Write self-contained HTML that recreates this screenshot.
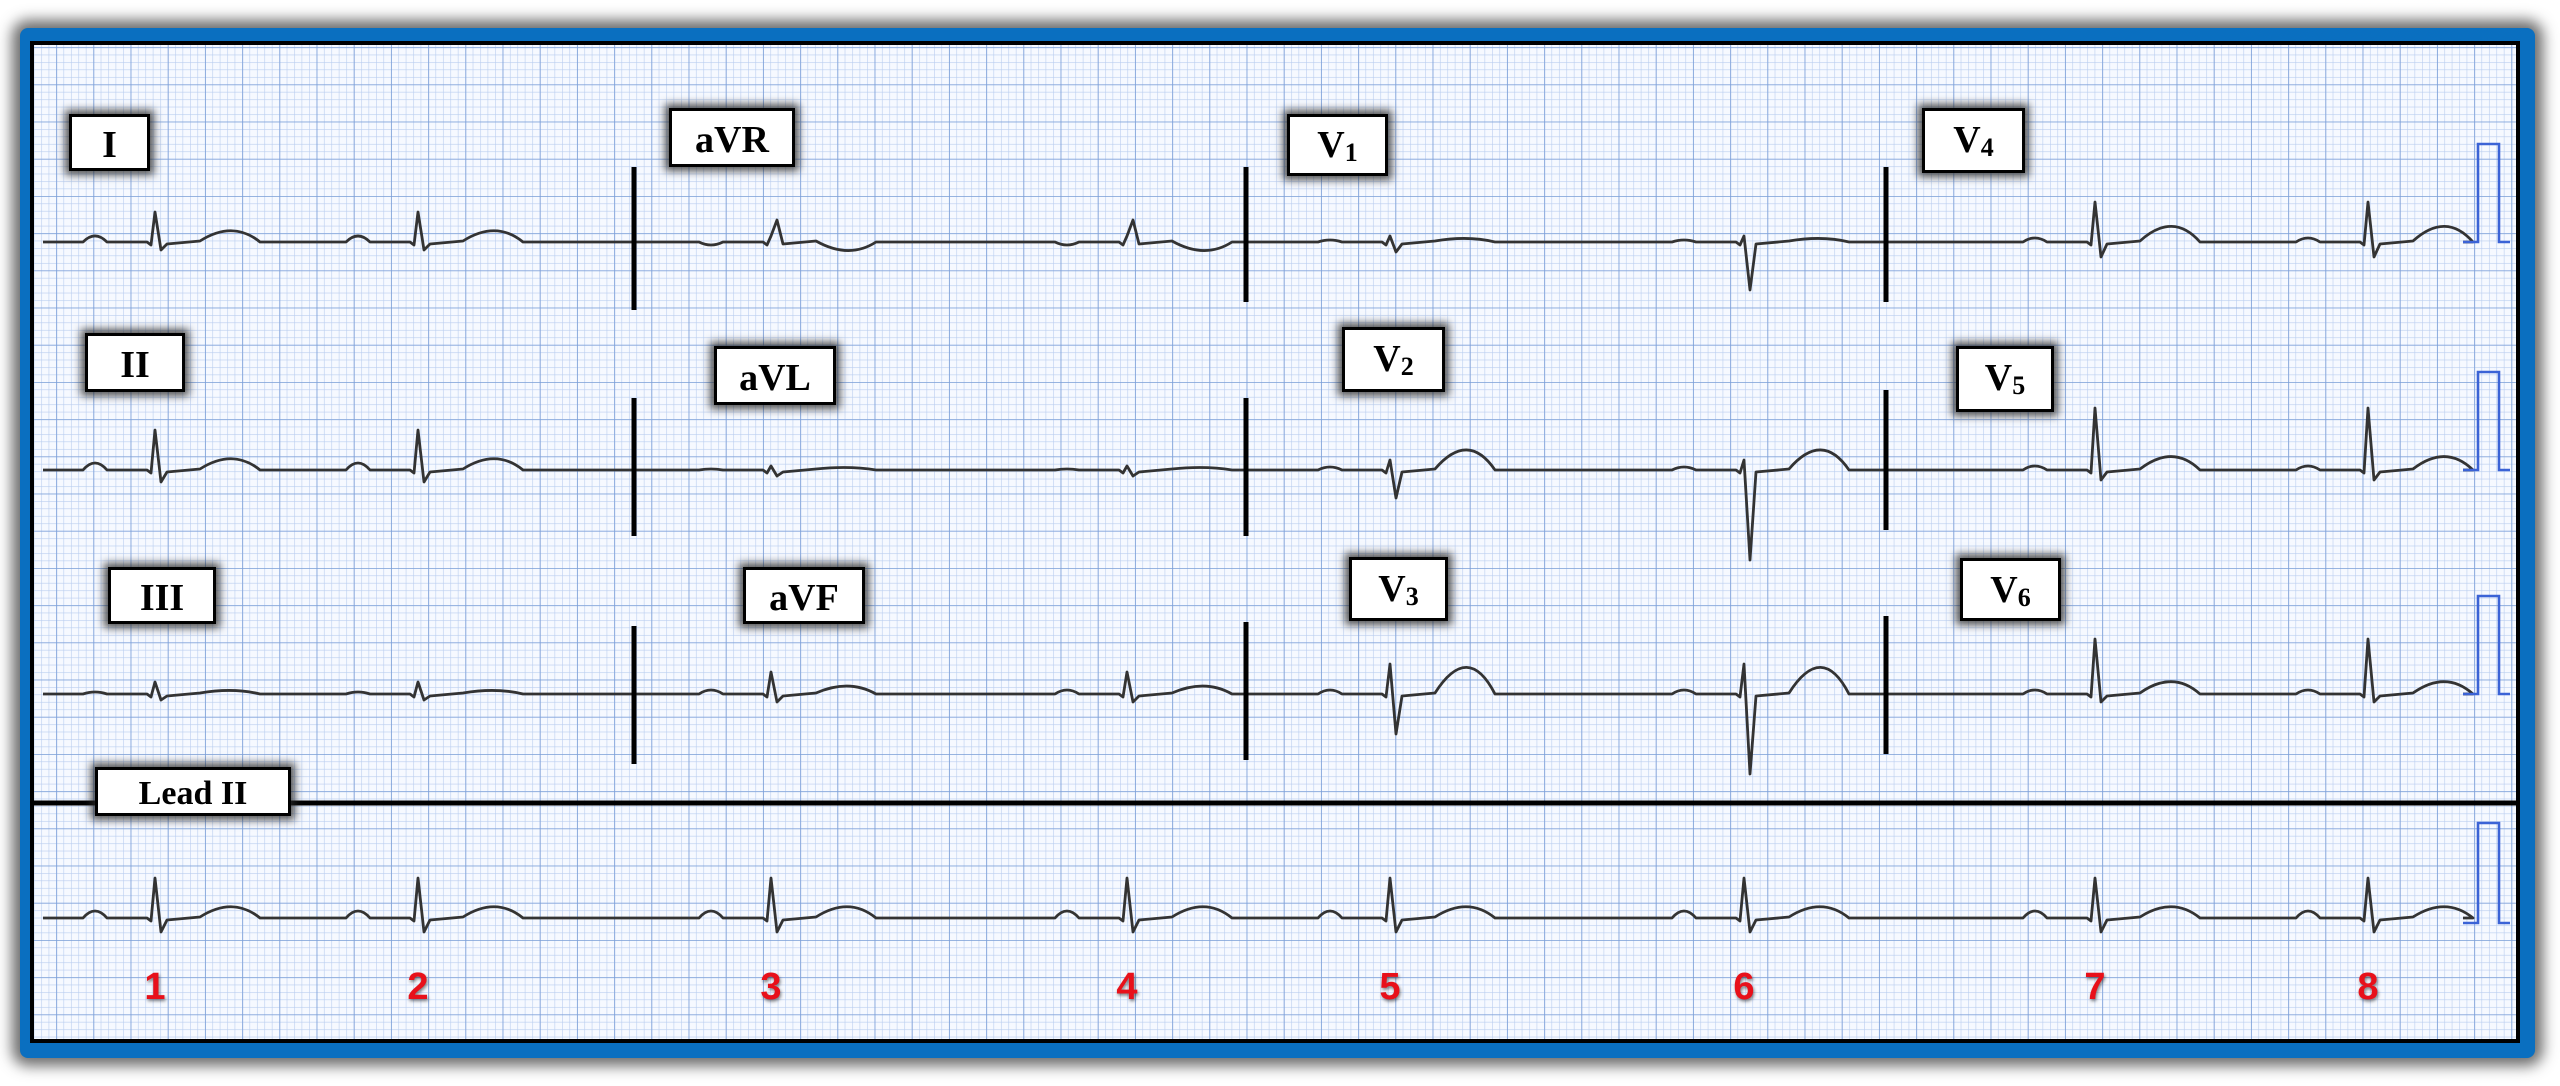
<!DOCTYPE html>
<html><head><meta charset="utf-8"><style>
html,body{margin:0;padding:0;background:#fff;}
#wrap{position:relative;width:2560px;height:1086px;overflow:hidden;background:#fff;}
#frame{position:absolute;left:20px;top:28px;width:2515px;height:1030px;background:#0a6fc0;border-radius:8px;box-shadow:0 0 14px 8px rgba(60,60,60,.75);}
#paper{position:absolute;left:30px;top:41px;width:2490px;height:1002px;border:4px solid #000;box-sizing:border-box;background:#f6f9ff;}
svg{position:absolute;left:0;top:0;}
.lb{position:absolute;background:#fff;border:3px solid #000;box-sizing:border-box;box-shadow:0 0 8px 4px rgba(40,40,40,.8);font-family:"Liberation Serif",serif;font-weight:bold;font-size:38px;color:#000;text-align:center;line-height:1;}
.lb span{display:inline-block;}
.lb sub{font-size:26px;position:relative;top:4px;vertical-align:baseline;}
.n{position:absolute;font-family:"Liberation Sans",sans-serif;font-weight:bold;font-size:38px;color:#e8101a;text-shadow:1px 2px 3px rgba(0,0,0,.5);transform:translateX(-50%);}
</style></head><body><div id="wrap">
<div id="frame"></div>
<div id="paper"></div>
<svg width="2560" height="1086" viewBox="0 0 2560 1086">
<defs>
<pattern id="sm" patternUnits="userSpaceOnUse" x="4" y="10" width="7.44" height="7.44"><path d="M0 0H7.44M0 0V7.44" stroke="#b9cdef" stroke-width="1.2" fill="none"/></pattern>
<pattern id="bg" patternUnits="userSpaceOnUse" x="19" y="10" width="37.2" height="37.2"><path d="M0 0H37.2M0 0V37.2" stroke="#7c9fd8" stroke-width="1.6" fill="none"/></pattern>
</defs>
<rect x="34" y="45" width="2482" height="994" fill="url(#sm)"/>
<rect x="34" y="45" width="2482" height="994" fill="url(#bg)"/>
<g id="traces" fill="none" stroke="#333" stroke-width="2.8" stroke-linejoin="round"></g>
<g stroke="#000" stroke-width="5">
<line x1="634" y1="167" x2="634" y2="310"/><line x1="1246" y1="167" x2="1246" y2="302"/><line x1="1886" y1="167" x2="1886" y2="302"/>
<line x1="634" y1="398" x2="634" y2="536"/><line x1="1246" y1="398" x2="1246" y2="536"/><line x1="1886" y1="390" x2="1886" y2="530"/>
<line x1="634" y1="626" x2="634" y2="764"/><line x1="1246" y1="622" x2="1246" y2="760"/><line x1="1886" y1="616" x2="1886" y2="754"/>
<line x1="34" y1="803" x2="2518" y2="803"/>
</g>
<g fill="none" stroke="#3b63d6" stroke-width="2.6">
<path d="M2463 242H2478V144H2499V242H2510"/>
<path d="M2463 470H2478V372H2499V470H2510"/>
<path d="M2463 694H2478V596H2499V694H2510"/>
<path d="M2463 923H2478V823H2499V923H2510"/>
</g>
</svg>
<div class="lb" style="left:69px;top:114px;width:81px;height:57px;padding-top:9px">I</div>
<div class="lb" style="left:669px;top:108px;width:126px;height:59px;padding-top:10px">aVR</div>
<div class="lb" style="left:1287px;top:114px;width:101px;height:62px;padding-top:9px"><span>V<sub>1</sub></span></div>
<div class="lb" style="left:1922px;top:108px;width:103px;height:65px;padding-top:10px"><span>V<sub>4</sub></span></div>
<div class="lb" style="left:85px;top:333px;width:100px;height:59px;padding-top:10px">II</div>
<div class="lb" style="left:714px;top:346px;width:122px;height:59px;padding-top:10px">aVL</div>
<div class="lb" style="left:1342px;top:327px;width:103px;height:65px;padding-top:10px"><span>V<sub>2</sub></span></div>
<div class="lb" style="left:1956px;top:346px;width:98px;height:66px;padding-top:10px"><span>V<sub>5</sub></span></div>
<div class="lb" style="left:108px;top:567px;width:108px;height:57px;padding-top:9px">III</div>
<div class="lb" style="left:743px;top:567px;width:122px;height:57px;padding-top:9px">aVF</div>
<div class="lb" style="left:1349px;top:557px;width:99px;height:64px;padding-top:10px"><span>V<sub>3</sub></span></div>
<div class="lb" style="left:1960px;top:558px;width:101px;height:63px;padding-top:10px"><span>V<sub>6</sub></span></div>
<div class="lb" style="left:95px;top:767px;width:196px;height:49px;font-size:34px;padding-top:7px">Lead II</div>
<div class="n" style="left:155px;top:966px">1</div>
<div class="n" style="left:418px;top:966px">2</div>
<div class="n" style="left:771px;top:966px">3</div>
<div class="n" style="left:1127px;top:966px">4</div>
<div class="n" style="left:1390px;top:966px">5</div>
<div class="n" style="left:1744px;top:966px">6</div>
<div class="n" style="left:2095px;top:966px">7</div>
<div class="n" style="left:2368px;top:966px">8</div>
</div>
<script>
var B=[155,418,771,1127,1390,1744,2095,2368];
function seg(x0,x1,b,beats,o){
 var d="M"+x0+" "+b;
 beats.forEach(function(i,k){
  var x=B[i],R=o.R,S=(o.Sk&&o.Sk[k]!=null)?o.Sk[k]:o.S,T=o.T,P=o.P;
  d+=" L"+(x-72)+" "+b+" Q"+(x-60)+" "+(b-2*P)+" "+(x-48)+" "+b;
  d+=" L"+(x-8)+" "+b+" L"+(x-4)+" "+(b+3)+" L"+x+" "+(b-R)+" L"+(x+6)+" "+(b+S)+" L"+(x+12)+" "+(b+2);
  d+=" L"+(x+45)+" "+(b-1)+" Q"+(x+78)+" "+(b-2.2*T)+" "+(x+105)+" "+b;
 });
 d+=" L"+x1+" "+b;return d;
}
var s=[
 [43,634,242,[0,1],{R:30,S:8,T:10,P:6}],
 [634,1246,242,[2,3],{R:6,S:-22,T:-8,P:-3}],
 [1246,1886,242,[4,5],{R:6,S:22,Sk:[10,48],T:3,P:2}],
 [1886,2463,242,[6,7],{R:40,S:15,T:14,P:4}],
 [43,634,470,[0,1],{R:40,S:12,T:10,P:7}],
 [634,1246,470,[2,3],{R:4,S:6,T:2,P:1}],
 [1246,1886,470,[4,5],{R:10,S:30,Sk:[28,90],T:18,P:3}],
 [1886,2463,470,[6,7],{R:62,S:10,T:12,P:4}],
 [43,634,694,[0,1],{R:12,S:6,T:3,P:2}],
 [634,1246,694,[2,3],{R:22,S:8,T:7,P:4}],
 [1246,1886,694,[4,5],{R:30,S:40,Sk:[40,80],T:24,P:4}],
 [1886,2463,694,[6,7],{R:55,S:8,T:11,P:4}],
 [43,2463,918,[0,1,2,3,4,5,6,7],{R:40,S:14,T:10,P:7}]
];
var g=document.getElementById("traces"),h="";
s.forEach(function(a){h+='<path d="'+seg(a[0],a[1],a[2],a[3],a[4])+'"/>';});
g.innerHTML=h;
</script>
</body></html>
